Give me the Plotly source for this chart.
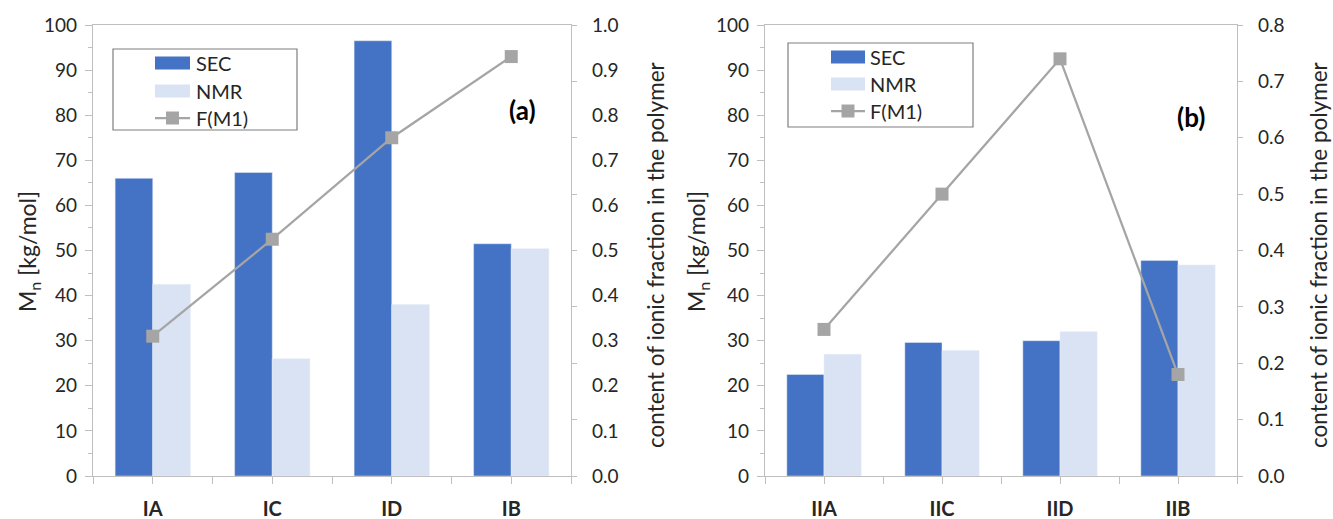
import plotly.graph_objects as go

# ---------------- data ----------------
cats_a = ["IA", "IC", "ID", "IB"]
sec_a = [66.0, 67.3, 96.5, 51.5]
nmr_a = [42.5, 26.0, 38.0, 50.4]
fm1_a = [0.31, 0.525, 0.75, 0.93]

cats_b = ["IIA", "IIC", "IID", "IIB"]
sec_b = [22.5, 29.6, 30.0, 47.8]
nmr_b = [27.0, 27.8, 32.0, 46.8]
fm1_b = [0.26, 0.50, 0.74, 0.18]

legend_names = ["SEC", "NMR", "F(M1)"]
panel_labels = ["(a)", "(b)"]
left_title = "M<sub>n</sub> [kg/mol]"
right_title = "content of ionic fraction in the polymer"

# ---------------- styles ----------------
W, H = 1333, 519
FONT = "Lato"
C_SEC = "#4472C4"
C_NMR = "#DAE3F3"
C_LINE = "#A5A5A5"
C_AX = "#BFBFBF"
C_TXT = "#262626"

def px(x):
    return x / W

def py(y):
    return (H - y) / H

pos = list(range(len(cats_a)))
bound_pos = [p - 0.5 for p in range(len(cats_a) + 1)]

fig = go.Figure()

# panel a
fig.add_trace(go.Bar(x=pos, y=sec_a, marker_color=C_SEC, name=legend_names[0],
                     xaxis="x", yaxis="y", showlegend=False))
fig.add_trace(go.Bar(x=pos, y=nmr_a, marker_color=C_NMR, name=legend_names[1],
                     xaxis="x", yaxis="y", showlegend=False))
fig.add_trace(go.Scatter(x=pos, y=fm1_a, mode="lines+markers", name=legend_names[2],
                         line=dict(color=C_LINE, width=2.25),
                         marker=dict(symbol="square", size=13, color=C_LINE),
                         xaxis="x", yaxis="y2", showlegend=False))
fig.add_trace(go.Scatter(x=[], y=[], xaxis="x", yaxis="y5", showlegend=False))

# panel b
fig.add_trace(go.Bar(x=pos, y=sec_b, marker_color=C_SEC, name=legend_names[0],
                     xaxis="x2", yaxis="y3", showlegend=False))
fig.add_trace(go.Bar(x=pos, y=nmr_b, marker_color=C_NMR, name=legend_names[1],
                     xaxis="x2", yaxis="y3", showlegend=False))
fig.add_trace(go.Scatter(x=pos, y=fm1_b, mode="lines+markers", name=legend_names[2],
                         line=dict(color=C_LINE, width=2.25),
                         marker=dict(symbol="square", size=13, color=C_LINE),
                         xaxis="x2", yaxis="y4", showlegend=False))

ydom = [py(476), py(25)]
tickfont = dict(family=FONT, size=19, color=C_TXT)

def xaxis(dom, cats, anchor):
    return dict(domain=dom, anchor=anchor, range=[-0.5, 3.5], automargin=False,
                tickvals=pos, ticktext=cats,
                ticks="outside", ticklen=7, tickcolor=C_AX, tickwidth=1.3,
                minor=dict(tickvals=bound_pos, ticks="outside", ticklen=7,
                           tickcolor=C_AX, tickwidth=1.3, showgrid=False),
                showline=True, linecolor=C_AX, linewidth=1.3, mirror=True,
                showgrid=False, zeroline=False, fixedrange=True,
                tickfont=dict(family=FONT, size=20, color=C_TXT, weight="bold"),
                ticklabelstandoff=8)

def yleft(anchor):
    return dict(domain=ydom, anchor=anchor, range=[0, 100], dtick=10, automargin=False,
                ticks="outside", ticklen=7, tickcolor=C_AX, tickwidth=1.3,
                minor=dict(dtick=5, ticks="outside", ticklen=4, tickcolor=C_AX),
                showline=True, linecolor=C_AX, linewidth=1.3,
                showgrid=False, zeroline=False, tickfont=tickfont,
                ticklabelstandoff=4)

fig.update_layout(
    width=W, height=H,
    margin=dict(l=0, r=0, t=0, b=0, autoexpand=False),
    paper_bgcolor="white", plot_bgcolor="white",
    barmode="group", bargap=0.37, bargroupgap=0,
    font=dict(family=FONT, color=C_TXT),
    xaxis=xaxis([px(93), px(571)], cats_a, "y"),
    xaxis2=xaxis([px(765), px(1237)], cats_b, "y3"),
    yaxis=yleft("x"),
    yaxis3=yleft("x2"),
    yaxis2=dict(overlaying="y", side="right", anchor="x", range=[0, 1], automargin=False,
                dtick=0.1, tickformat=".1f", ticks="",
                showline=True, linecolor=C_AX, linewidth=1.3,
                showgrid=False, zeroline=False, tickfont=tickfont,
                ticklabelstandoff=16),
    yaxis5=dict(overlaying="y", side="right", anchor="x", range=[0, 1], automargin=False,
                tickvals=[k / 8 for k in range(9)], showticklabels=False,
                ticks="outside", ticklen=5, tickcolor=C_AX, tickwidth=1.3,
                showline=False, showgrid=False, zeroline=False),
    yaxis4=dict(overlaying="y3", side="right", anchor="x2", range=[0, 0.8], automargin=False,
                dtick=0.1, tickformat=".1f", ticks="outside", ticklen=5,
                tickcolor=C_AX, tickwidth=1.3,
                showline=True, linecolor=C_AX, linewidth=1.3,
                showgrid=False, zeroline=False, tickfont=tickfont,
                ticklabelstandoff=11),
)

shapes = []
annotations = []

# axis titles
for xc in (28, 697):
    annotations.append(dict(x=px(xc), y=py(252), xref="paper", yref="paper",
                            text=left_title, textangle=-90, showarrow=False,
                            font=dict(family=FONT, size=23, color=C_TXT),
                            xanchor="center", yanchor="middle"))
for xc in (655, 1318):
    annotations.append(dict(x=px(xc), y=py(255), xref="paper", yref="paper",
                            text=right_title, textangle=-90, showarrow=False,
                            font=dict(family=FONT, size=22.5, color=C_TXT),
                            xanchor="center", yanchor="middle", borderpad=0))

# panel labels
for lab, (xc, yc) in zip(panel_labels, [(522, 110), (1191, 117)]):
    annotations.append(dict(x=px(xc), y=py(yc), xref="paper", yref="paper",
                            text=lab, showarrow=False,
                            font=dict(family=FONT, size=26, color="black", weight="bold"),
                            xanchor="center", yanchor="middle"))

# custom legends (Excel style)
legend_specs = [
    dict(box=(113, 49, 297, 130), sw=(155, 190), rows=(63, 91, 118), tx=194),
    dict(box=(788, 43, 973, 127), sw=(831, 865), rows=(57, 84, 111), tx=868),
]
for spec in legend_specs:
    x0, y0, x1, y1 = spec["box"]
    shapes.append(dict(type="rect", xref="paper", yref="paper",
                       x0=px(x0), x1=px(x1), y0=py(y1), y1=py(y0),
                       line=dict(color="#7F7F7F", width=1.2), fillcolor="white",
                       layer="above"))
    s0, s1 = spec["sw"]
    r_sec, r_nmr, r_f = spec["rows"]
    for col, r in ((C_SEC, r_sec), (C_NMR, r_nmr)):
        shapes.append(dict(type="rect", xref="paper", yref="paper",
                           x0=px(s0), x1=px(s1), y0=py(r + 6.5), y1=py(r - 6.5),
                           line=dict(width=0), fillcolor=col, layer="above"))
    shapes.append(dict(type="line", xref="paper", yref="paper",
                       x0=px(s0), x1=px(s1), y0=py(r_f), y1=py(r_f),
                       line=dict(color=C_LINE, width=2.25), layer="above"))
    mc = (s0 + s1) / 2
    shapes.append(dict(type="rect", xref="paper", yref="paper",
                       x0=px(mc - 6.5), x1=px(mc + 6.5), y0=py(r_f + 6.5), y1=py(r_f - 6.5),
                       line=dict(width=0), fillcolor=C_LINE, layer="above"))
    for name, r in zip(legend_names, spec["rows"]):
        annotations.append(dict(x=px(spec["tx"]), y=py(r), xref="paper", yref="paper",
                                text=name, showarrow=False,
                                font=dict(family=FONT, size=20, color=C_TXT),
                                xanchor="left", yanchor="middle"))

fig.update_layout(shapes=shapes, annotations=annotations)
fig.write_html("out.html", config={"displayModeBar": False},
               post_script="document.body.style.margin='0';document.body.style.overflow='hidden';")
